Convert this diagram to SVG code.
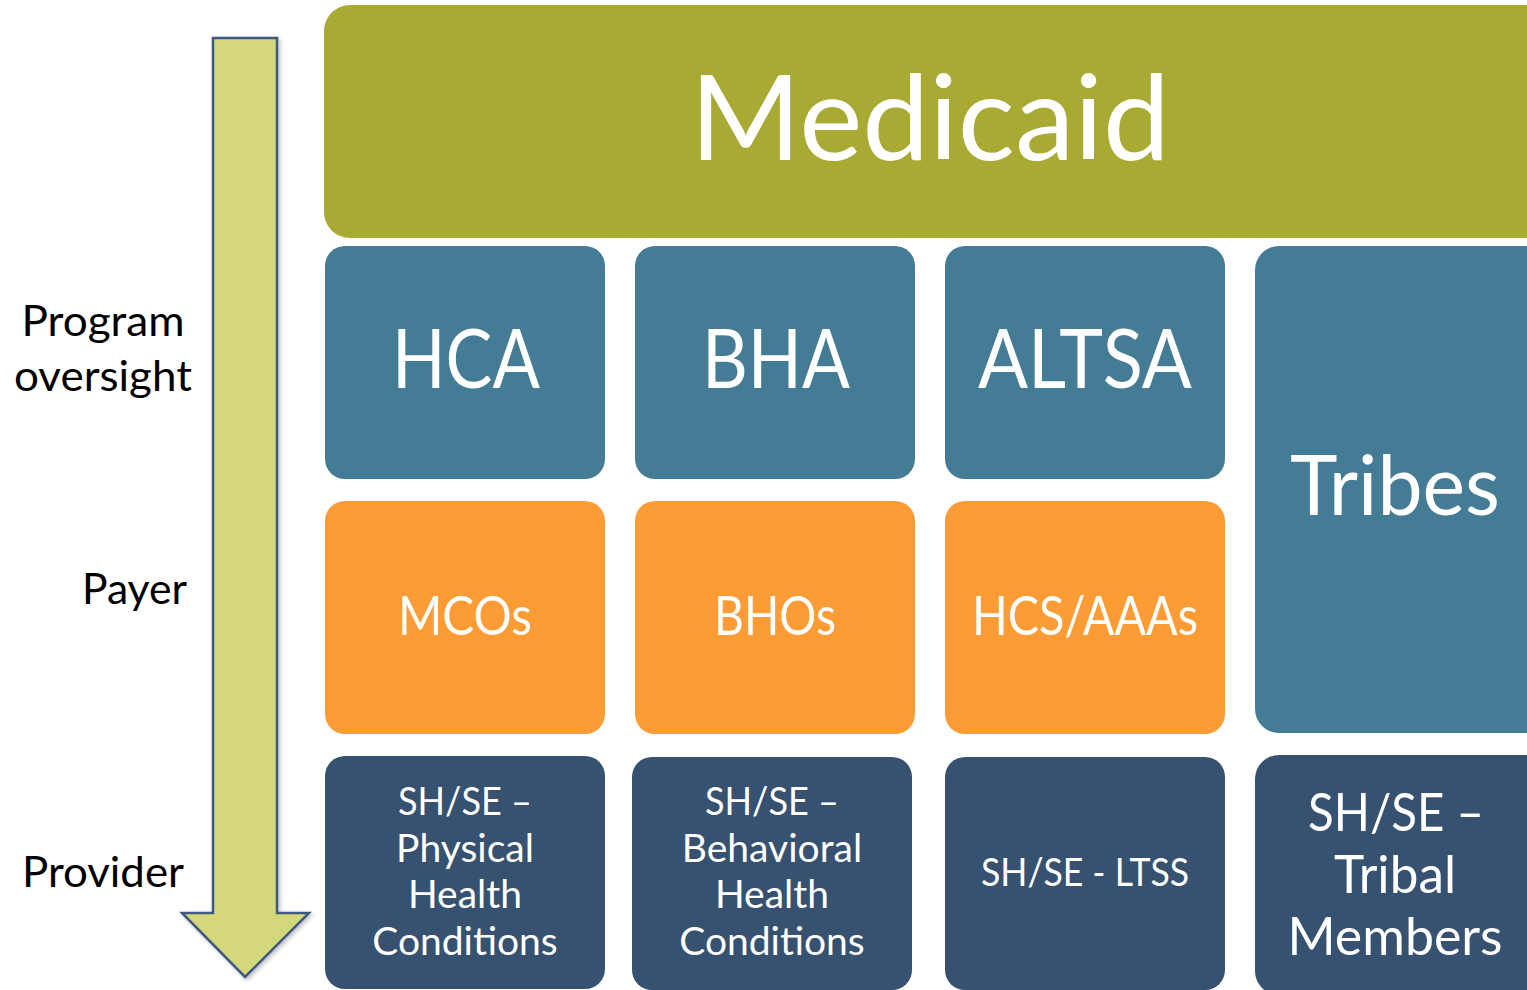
<svg xmlns="http://www.w3.org/2000/svg" width="1527" height="990" viewBox="0 0 1527 990">
<style>
text{font-family:Lato,"Open Sans","Liberation Sans",sans-serif;fill:#fff;text-anchor:middle}
.lbl{fill:#000;font-size:43px}
.g{fill:#A9AA33}
.b{fill:#447B95}
.o{fill:#FD9B35}
.n{fill:#375170}
</style>
<defs>
<filter id="sh" x="-20%" y="-5%" width="140%" height="110%"><feDropShadow dx="2" dy="2" stdDeviation="2" flood-color="#000" flood-opacity="0.25"/></filter>
</defs>
<g id="arrow">
<path d="M213,38 H277 V913 H309 L245,977 L182,913 H213 Z" fill="#D5D87A" stroke="#3D5A80" stroke-width="2.5" filter="url(#sh)"/>
</g>
<g id="labels">
<text class="lbl" x="103" y="336" textLength="163" lengthAdjust="spacingAndGlyphs">Program</text>
<text class="lbl" x="103" y="391" textLength="178" lengthAdjust="spacingAndGlyphs">oversight</text>
<text class="lbl" x="187" y="604" style="text-anchor:end" textLength="105" lengthAdjust="spacingAndGlyphs">Payer</text>
<text class="lbl" x="184" y="887" style="text-anchor:end" textLength="162" lengthAdjust="spacingAndGlyphs">Provider</text>
</g>
<g id="medicaid">
<rect class="g" x="324" y="5" width="1228" height="233" rx="26"/>
<text x="930" y="160" font-size="119" textLength="480" lengthAdjust="spacingAndGlyphs">Medicaid</text>
</g>
<g id="hca">
<rect class="b" x="325" y="246" width="280" height="233" rx="20"/>
<text x="466" y="388" font-size="81" textLength="148" lengthAdjust="spacingAndGlyphs">HCA</text>
</g>
<g id="bha">
<rect class="b" x="635" y="246" width="280" height="233" rx="20"/>
<text x="776" y="388" font-size="81" textLength="148" lengthAdjust="spacingAndGlyphs">BHA</text>
</g>
<g id="altsa">
<rect class="b" x="945" y="246" width="280" height="233" rx="20"/>
<text x="1085" y="388" font-size="81" textLength="214" lengthAdjust="spacingAndGlyphs">ALTSA</text>
</g>
<g id="tribes">
<rect class="b" x="1255" y="246" width="300" height="487" rx="24"/>
<text x="1395" y="515" font-size="84" textLength="210" lengthAdjust="spacingAndGlyphs">Tribes</text>
</g>
<g id="mcos">
<rect class="o" x="325" y="501" width="280" height="233" rx="20"/>
<text x="465" y="635" font-size="54" textLength="134" lengthAdjust="spacingAndGlyphs">MCOs</text>
</g>
<g id="bhos">
<rect class="o" x="635" y="501" width="280" height="233" rx="20"/>
<text x="775" y="635" font-size="54" textLength="122" lengthAdjust="spacingAndGlyphs">BHOs</text>
</g>
<g id="hcs">
<rect class="o" x="945" y="501" width="280" height="233" rx="20"/>
<text x="1085" y="635" font-size="54" textLength="226" lengthAdjust="spacingAndGlyphs">HCS/AAAs</text>
</g>
<g id="sh-physical">
<rect class="n" x="325" y="756" width="280" height="233" rx="20"/>
<text font-size="39"><tspan x="465" y="815" textLength="134" lengthAdjust="spacingAndGlyphs">SH/SE –</tspan><tspan x="465" y="862">Physical</tspan><tspan x="465" y="908">Health</tspan><tspan x="465" y="955">Conditions</tspan></text>
</g>
<g id="sh-behavioral">
<rect class="n" x="632" y="757" width="280" height="233" rx="20"/>
<text font-size="39"><tspan x="772" y="815" textLength="134" lengthAdjust="spacingAndGlyphs">SH/SE –</tspan><tspan x="772" y="862">Behavioral</tspan><tspan x="772" y="908">Health</tspan><tspan x="772" y="955">Conditions</tspan></text>
</g>
<g id="sh-ltss">
<rect class="n" x="945" y="757" width="280" height="233" rx="20"/>
<text x="1085" y="886" font-size="38" textLength="208" lengthAdjust="spacingAndGlyphs">SH/SE - LTSS</text>
</g>
<g id="sh-tribal">
<rect class="n" x="1255" y="755" width="300" height="240" rx="24"/>
<text font-size="53"><tspan x="1396" y="831" textLength="176" lengthAdjust="spacingAndGlyphs">SH/SE –</tspan><tspan x="1395" y="893" textLength="122" lengthAdjust="spacingAndGlyphs">Tribal</tspan><tspan x="1395" y="955" textLength="215" lengthAdjust="spacingAndGlyphs">Members</tspan></text>
</g>
<g id="connectors"></g>
</svg>
